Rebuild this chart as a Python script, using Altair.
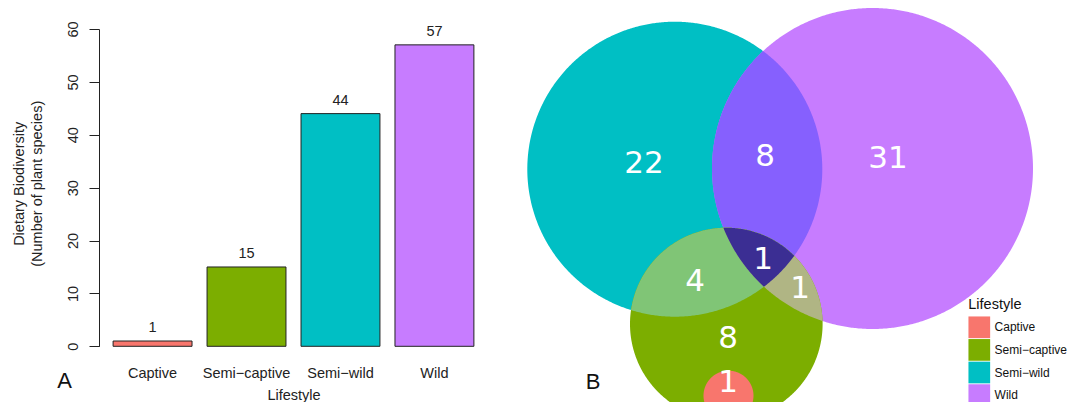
import math
import altair as alt
import pandas as pd

# ---------------- data ----------------
lifestyles = ["Captive", "Semi\u2212captive", "Semi\u2212wild", "Wild"]
species_counts = [1, 15, 44, 57]
palette = ["#F8766D", "#7CAE00", "#00BFC4", "#C77CFF"]
y_ticks = [0, 10, 20, 30, 40, 50, 60]

# Venn diagram: sets drawn as circles (layout units)
set_names = ["Semi\u2212wild", "Wild", "Semi\u2212captive", "Captive"]
set_cx = [674.8, 872.5, 726.3, 728.5]
set_cy = [169.2, 168.5, 324.0, 395.7]
set_r = [147.5, 160.5, 96.3, 25.0]

# painting order of venn regions (members) and their fill colours
paint_members = [
    ["Semi\u2212wild"],
    ["Wild"],
    ["Semi\u2212wild", "Wild"],
    ["Semi\u2212captive"],
    ["Semi\u2212wild", "Semi\u2212captive"],
    ["Wild", "Semi\u2212captive"],
    ["Semi\u2212wild", "Wild", "Semi\u2212captive"],
    ["Captive"],
]
paint_colors = ["#00BFC4", "#C77CFF", "#8660FE", "#7CAE00",
                "#80C576", "#B0B584", "#3B2E93", "#F8766D"]

# region counts and label anchors (layout units)
region_counts = [22, 8, 31, 4, 1, 1, 8, 1]
region_x = [644, 765, 888, 695, 763, 800, 728, 728]
region_y = [161.7, 155, 157, 280, 258, 287, 337, 381]


def circle_of(name):
    i = set_names.index(name)
    return (set_cx[i], set_cy[i], set_r[i])


def inside_all(px, py, circles):
    return all((px - cx) ** 2 + (py - cy) ** 2 <= r * r * (1 + 1e-6) for cx, cy, r in circles)


def region_ring(members, n=720):
    circles = [circle_of(m) for m in members]
    pts = []
    for cx, cy, r in circles:
        for k in range(n):
            t = 2 * math.pi * k / n
            px, py = cx + r * math.cos(t), cy + r * math.sin(t)
            if inside_all(px, py, circles):
                pts.append((px, py))
    for a in range(len(circles)):
        for b in range(a + 1, len(circles)):
            x0, y0, r0 = circles[a]
            x1, y1, r1 = circles[b]
            d = math.hypot(x1 - x0, y1 - y0)
            if d == 0 or d > r0 + r1 or d < abs(r0 - r1):
                continue
            aa = (r0 * r0 - r1 * r1 + d * d) / (2 * d)
            h = math.sqrt(max(r0 * r0 - aa * aa, 0))
            xm = x0 + aa * (x1 - x0) / d
            ym = y0 + aa * (y1 - y0) / d
            for s in (1, -1):
                px = xm + s * h * (y1 - y0) / d
                py = ym - s * h * (x1 - x0) / d
                if inside_all(px, py, circles):
                    pts.append((px, py))
    mx = sum(p[0] for p in pts) / len(pts)
    my = sum(p[1] for p in pts) / len(pts)
    pts.sort(key=lambda p: math.atan2(p[1] - my, p[0] - mx))
    ring = [[round(p[0], 2), round(p[1], 2)] for p in pts]
    ring.append(ring[0])
    return ring


features = []
for members, col in zip(paint_members, paint_colors):
    features.append({
        "type": "Feature",
        "properties": {"fill": col, "sets": " & ".join(members)},
        "geometry": {"type": "Polygon", "coordinates": [region_ring(members)]},
    })

# ---------------- layout ----------------
FONT = "Liberation Sans"
INK = "#222222"
VIEW_W, VIEW_H = 970, 394
LEFT_PAD = 91
BAR_W, BAR_BASE, BAR_TOP = 389, 338.3, 21.0

# ---------------- panel A: bar chart ----------------
bar_df = pd.DataFrame({"lifestyle": lifestyles, "species": species_counts})

x_enc = alt.X(
    "lifestyle:N", sort=lifestyles,
    scale=alt.Scale(range=[0, BAR_W], paddingInner=0.16, paddingOuter=0.15),
    axis=alt.Axis(title="Lifestyle", domain=False, ticks=False, tickSize=0,
                  offset=-(VIEW_H - BAR_BASE),
                  labelAngle=0, labelPadding=20.3, labelFontSize=14.5,
                  labelColor=INK, labelFont=FONT,
                  titleFontSize=14.5, titleFontWeight="normal", titleColor=INK,
                  titleFont=FONT, titleY=42.5),
)
y_enc = alt.Y(
    "species:Q",
    scale=alt.Scale(domain=[0, 60], range=[BAR_BASE, BAR_TOP], nice=False),
    axis=alt.Axis(values=y_ticks, domain=True, domainColor=INK, grid=False,
                  tickSize=10, tickColor=INK, labelAngle=270,
                  labelAlign="center", labelBaseline="alphabetic",
                  labelPadding=11.1, labelFontSize=14.5, labelColor=INK,
                  labelFont=FONT,
                  title=["Dietary Biodiversity", "(Number of plant species)"],
                  titleAngle=270, titleX=-75.7, titleY=175.3,
                  titleAlign="center", titleBaseline="alphabetic",
                  titleLineHeight=18.3, titleFontSize=14.5,
                  titleFontWeight="normal", titleColor=INK, titleFont=FONT),
)

bars = alt.Chart(bar_df).mark_bar(stroke=INK, strokeWidth=1).encode(
    x=x_enc, y=y_enc,
    color=alt.Color(
        "lifestyle:N",
        scale=alt.Scale(domain=lifestyles, range=palette),
        legend=alt.Legend(
            title="Lifestyle", orient="none", legendX=869.3, legendY=290.3,
            titleFontSize=14.5, titleFontWeight="normal", titleColor="#111",
            titleFont=FONT, titlePadding=3.5, labelFontSize=12,
            labelColor="#111", labelFont=FONT, labelOffset=4.3,
            symbolType="square", symbolSize=471, symbolStrokeWidth=0,
            symbolOpacity=1, rowPadding=0.6, padding=0,
        ),
    ),
)

bar_text = alt.Chart(bar_df).mark_text(
    dy=-13, fontSize=14.5, color=INK, font=FONT, baseline="middle"
).encode(x=alt.X("lifestyle:N", sort=lifestyles), y="species:Q", text="species:Q")

panel_labels = pd.DataFrame({"t": ["A", "B"], "px": [-34.5, 494], "py": [372.8, 374.3]})
label_ab = alt.Chart(panel_labels).mark_text(
    fontSize=22, color="#111", font=FONT, baseline="middle", align="center"
).encode(
    x=alt.X("px:Q", scale=None), y=alt.Y("py:Q", scale=None), text="t:N"
)

# ---------------- panel B: venn ----------------
proj = dict(type="identity", scale=1, translate=[-(LEFT_PAD + 8), -8])

shapes = alt.Chart(alt.Data(values=features)).mark_geoshape(
    strokeWidth=0, stroke="transparent", clip=True
).encode(fill=alt.Fill("properties.fill:N", scale=None)).project(**proj)

venn_df = pd.DataFrame({"count": region_counts, "lon": region_x, "lat": region_y})
venn_text = alt.Chart(venn_df).mark_text(
    fontSize=31, color="white", font="DejaVu Sans", baseline="middle",
    align="center", dy=2
).encode(longitude="lon:Q", latitude="lat:Q", text="count:Q").project(**proj)

chart = alt.layer(shapes, venn_text, bars, bar_text, label_ab).properties(
    width=VIEW_W, height=VIEW_H,
    autosize=alt.AutoSizeParams(type="none"),
    padding={"left": LEFT_PAD, "top": 0, "right": 0, "bottom": 0},
).configure(font=FONT).configure_view(stroke=None)

chart.save("out.html", embed_options={"renderer": "svg", "actions": False})
